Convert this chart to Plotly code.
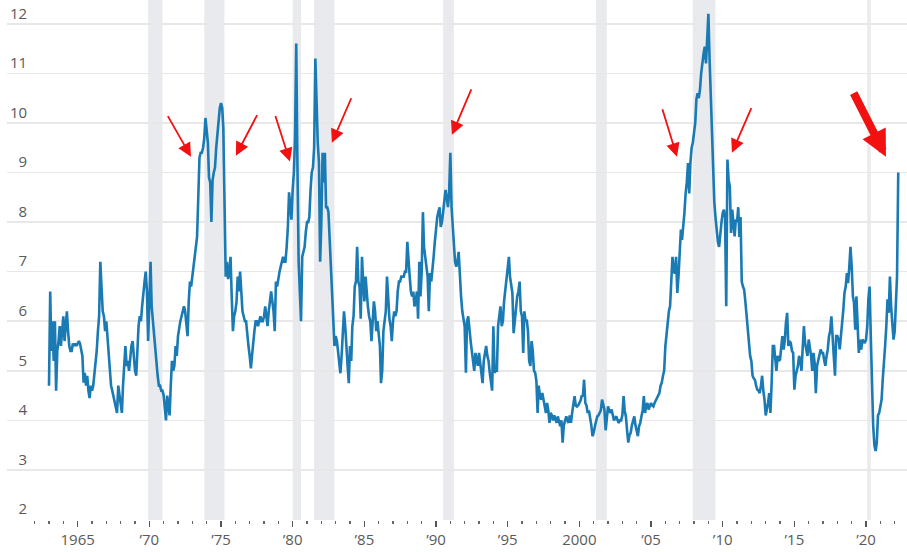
import pandas as pd
import plotly.graph_objects as go

# ---- Data: months' supply of new houses, monthly, Jan 1963 - Apr 2022 ----
supply_1963_1969 = [
    4.7, 6.6, 5.4, 6.0, 5.2, 6.0, 4.6, 5.4, 5.6, 5.9, 5.5, 5.8,
    6.1, 5.6, 5.9, 6.2, 5.8, 5.5, 5.4, 5.4, 5.55, 5.5, 5.55, 5.5,
    5.55, 5.6, 5.55, 5.4, 5.3, 4.76, 4.96, 4.7, 4.9, 4.6, 4.45, 4.7,
    4.6, 4.7, 4.9, 5.1, 5.4, 5.8, 6.1, 7.2, 6.5, 6.2, 6.1, 5.8,
    6.0, 5.7, 5.4, 5.0, 4.7, 4.6, 4.5, 4.4, 4.3, 4.15, 4.7, 4.5,
    4.3, 4.15, 4.7, 5.1, 5.5, 5.1, 5.2, 5.0, 5.3, 5.5, 5.6, 5.3,
    5.0, 4.9, 5.5, 5.9, 6.1, 6.0, 6.3, 6.6, 6.8, 7.0, 6.6, 5.6,
]
supply_1970s = [
    6.5, 7.2, 6.3, 6.0, 5.7, 5.4, 5.2, 4.9, 4.7, 4.7, 4.6, 4.6,
    4.5, 4.3, 4.0, 4.5, 4.3, 4.1, 4.7, 5.2, 5.0, 5.1, 5.5, 5.3,
    5.7, 5.9, 6.0, 6.1, 6.2, 6.3, 6.2, 6.0, 5.7, 6.4, 6.8, 6.7,
    6.9, 7.1, 7.3, 7.6, 7.7, 8.5, 9.3, 9.4, 9.4, 9.5, 9.7, 10.1,
    9.8, 9.6, 8.9, 8.8, 8.0, 8.85, 9.0, 9.1, 9.5, 9.8, 10.1, 10.3,
    10.4, 10.3, 9.9, 8.5, 6.9, 7.2, 6.85, 7.0, 7.3, 6.5, 5.8, 6.1,
    6.2, 6.4, 6.9, 6.6, 7.0, 6.6, 6.2, 6.1, 6.0, 6.0, 5.7, 5.5,
    5.3, 5.05, 5.3, 5.6, 5.8, 6.0, 6.0, 5.9, 6.0, 6.1, 6.0, 6.0,
    6.1, 6.3, 6.1, 5.9, 6.2, 6.4, 6.6, 6.4, 6.2, 5.8, 6.8, 6.7,
    6.9, 7.0, 7.1, 7.2, 7.3, 7.2, 7.2, 7.5, 7.9, 8.6, 8.3, 8.05,
]
supply_1980s = [
    8.65, 9.0, 9.7, 11.6, 9.2, 7.2, 6.6, 6.0, 7.3, 7.4, 7.5, 7.8,
    8.0, 8.0, 8.1, 8.65, 9.0, 9.1, 9.5, 11.3, 10.3, 9.6, 9.2, 7.2,
    8.0, 9.4, 8.8, 9.4, 8.3, 8.3, 8.2, 7.6, 7.2, 6.4, 5.8, 5.5,
    5.7, 5.6, 5.4, 5.2, 4.95, 5.3, 5.7, 6.2, 5.9, 5.6, 5.1, 4.75,
    5.5, 5.2, 5.9, 6.1, 6.7, 6.8, 7.5, 6.8, 6.7, 6.05, 7.3, 6.8,
    6.4, 6.9, 6.5, 6.3, 6.1, 6.0, 5.6, 6.1, 6.4, 6.2, 5.8, 6.0,
    5.8, 5.5, 4.75, 5.0, 5.8, 6.05, 6.2, 6.9, 6.5, 6.05, 5.9, 5.6,
    6.0, 6.2, 6.1, 6.2, 6.6, 6.8, 6.8, 6.9, 6.9, 6.9, 7.0, 7.0,
    7.6, 7.1, 6.9, 6.6, 6.5, 6.6, 6.3, 6.4, 6.6, 6.05, 7.2, 6.5,
    7.0, 8.2, 7.5, 7.3, 7.1, 6.9, 6.2, 6.97, 6.8, 7.0, 7.3, 7.6,
]
supply_1990s = [
    7.9, 8.1, 8.2, 8.3, 7.9, 8.0, 8.2, 8.4, 8.65, 8.5, 8.3, 8.6,
    9.4, 8.3, 7.9, 7.4, 7.2, 7.1, 7.2, 7.4, 6.8, 6.5, 6.2, 6.0,
    5.9, 4.96, 6.0, 6.1, 5.8, 5.6, 5.4, 5.2, 5.0, 5.36, 5.2, 5.1,
    5.36, 5.1, 5.0, 4.75, 5.2, 5.36, 5.5, 5.3, 5.2, 4.96, 4.8, 4.6,
    5.9, 4.96, 5.0, 5.0, 5.9, 6.1, 6.3, 5.9, 6.0, 6.4, 6.6, 6.9,
    7.0, 7.3, 6.9, 6.7, 6.57, 5.76, 6.0, 6.3, 6.5, 6.6, 6.8, 6.2,
    6.1, 5.36, 6.2, 6.0, 6.03, 5.8, 5.2, 5.1, 5.6, 5.4, 5.0, 4.96,
    4.8, 4.15, 4.7, 4.5, 4.42, 4.55, 4.4, 4.3, 4.15, 4.35, 4.2, 3.95,
    4.15, 4.1, 4.0, 4.1, 4.0, 3.95, 4.08, 4.0, 3.88, 4.0, 3.55, 3.9,
    4.0, 4.08, 4.0, 3.95, 4.1, 3.95, 4.15, 4.3, 4.49, 4.3, 4.28, 4.3,
]
supply_2000s = [
    4.35, 4.4, 4.49, 4.5, 4.82, 4.35, 4.3, 4.15, 4.2, 4.08, 3.9, 3.68,
    3.75, 3.88, 4.0, 4.08, 4.1, 4.15, 4.2, 4.42, 4.3, 4.22, 3.8, 4.0,
    4.28, 4.2, 4.15, 4.22, 4.1, 4.0, 4.05, 4.08, 4.0, 3.95, 4.0, 4.0,
    4.1, 4.49, 4.2, 4.08, 3.8, 3.55, 3.7, 3.75, 3.9, 4.0, 4.08, 3.9,
    3.75, 3.68, 3.88, 3.95, 4.08, 4.2, 4.49, 4.15, 4.3, 4.35, 4.22, 4.3,
    4.35, 4.3, 4.28, 4.35, 4.4, 4.42, 4.5, 4.55, 4.7, 4.76, 4.9, 5.0,
    5.5, 5.8, 6.03, 6.2, 6.3, 6.7, 7.3, 7.0, 6.97, 7.3, 6.57, 6.9,
    7.3, 7.85, 7.64, 7.9, 8.18, 8.58, 8.8, 9.19, 8.58, 9.2, 9.5, 9.6,
    9.8, 10.0, 10.47, 10.6, 10.5, 10.67, 11.0, 11.27, 11.4, 11.54, 11.2, 11.68,
    12.2, 11.27, 10.54, 9.8, 8.79, 8.4, 8.1, 7.78, 7.6, 7.5, 7.85, 8.0,
]
supply_2010s = [
    8.18, 8.25, 8.1, 6.3, 9.26, 8.85, 8.72, 7.78, 8.25, 7.9, 7.71, 8.05,
    8.0, 8.3, 7.7, 8.1, 6.8, 6.7, 6.64, 6.4, 6.1, 5.8, 5.5, 5.3,
    5.2, 4.9, 4.85, 4.82, 4.7, 4.62, 4.6, 4.55, 4.7, 4.9, 4.6, 4.42,
    4.1, 4.2, 4.35, 4.55, 4.15, 4.76, 5.5, 5.5, 5.2, 5.0, 5.3, 5.2,
    5.23, 5.56, 5.7, 5.43, 5.6, 5.97, 6.17, 5.5, 5.6, 5.56, 5.4, 5.36,
    4.62, 4.9, 5.0, 5.1, 5.3, 5.2, 5.0, 5.43, 5.9, 5.56, 5.4, 5.3,
    5.63, 5.5, 5.3, 5.0, 5.36, 5.16, 4.55, 5.1, 5.23, 5.3, 5.43, 5.36,
    5.36, 5.2, 5.1, 5.3, 5.43, 5.7, 5.8, 6.1, 5.56, 5.3, 4.9, 5.7,
    5.7, 5.63, 5.43, 5.7, 5.83, 6.23, 6.57, 6.7, 6.97, 6.77, 7.1, 7.5,
    7.1, 6.5, 6.37, 5.83, 6.5, 5.7, 5.36, 5.63, 5.43, 5.63, 5.6, 5.56,
]
supply_2020s = [
    5.63, 5.9, 6.44, 6.7, 5.7, 4.76, 3.9, 3.5, 3.38, 3.55, 4.1, 4.15,
    4.3, 4.42, 4.82, 5.1, 5.5, 5.9, 6.44, 6.17, 6.9, 6.3, 6.03, 5.63,
    5.8, 6.3, 6.9, 9.0,
]

recession_starts = ["1969-12-01", "1973-11-01", "1980-01-01", "1981-07-01",
                    "1990-07-01", "2001-03-01", "2007-12-01", "2020-02-01"]
recession_ends = ["1970-11-30", "1975-03-31", "1980-07-31", "1982-11-30",
                  "1991-03-31", "2001-11-30", "2009-06-30", "2020-04-30"]

tick_years = ["1965-01-01", "1970-01-01", "1975-01-01", "1980-01-01",
              "1985-01-01", "1990-01-01", "1995-01-01", "2000-01-01",
              "2005-01-01", "2010-01-01", "2015-01-01", "2020-01-01"]
tick_text = ["1965", "\u201970", "\u201975", "\u201980", "\u201985", "\u201990",
             "\u201995", "2000", "\u201905", "\u201910", "\u201915", "\u201920"]

y_ticks = [2, 3, 4, 5, 6, 7, 8, 9, 10, 11, 12]

# arrow annotations: tip (date, value)
arrow_tips_x = ["1972-11-27", "1976-01-15", "1979-10-23", "1982-09-27",
                "1991-02-10", "2006-10-23", "2010-08-25", "2021-05-22"]
arrow_tips_y = [9.32, 9.34, 9.22, 9.60, 9.76, 9.32, 9.40, 9.32]

# ---- Build ----
values = (supply_1963_1969 + supply_1970s + supply_1980s + supply_1990s
          + supply_2000s + supply_2010s + supply_2020s)
dates = pd.date_range("1963-01-01", periods=len(values), freq="MS")

FONT = "Open Sans, Noto Sans, DejaVu Sans, sans-serif"
LABEL = "#5a5a5a"

fig = go.Figure()
fig.add_trace(go.Scatter(
    x=dates, y=values, mode="lines",
    line=dict(color="#1a7ab3", width=2.6),
    hoverinfo="skip", showlegend=False,
))

for s, e in zip(recession_starts, recession_ends):
    fig.add_shape(type="rect", xref="x", yref="paper", x0=s, x1=e, y0=0, y1=1,
                  fillcolor="#e9eaed", line=dict(width=0), layer="below")

tails = [(-24, -42), (22, -42), (-15, -47), (20, -46), (20, -47), (-15, -49), (20, -46)]
for i in range(7):
    fig.add_annotation(x=arrow_tips_x[i], y=arrow_tips_y[i], text="", showarrow=True,
                       arrowhead=2, arrowsize=1.5, arrowwidth=1.8, arrowcolor="#f21010",
                       ax=tails[i][0], ay=tails[i][1], standoff=0)
fig.add_annotation(x=arrow_tips_x[7], y=arrow_tips_y[7], text="", showarrow=True,
                   arrowhead=2, arrowsize=0.65, arrowwidth=8, arrowcolor="#f21010",
                   ax=-33, ay=-65, standoff=0)

fig.update_layout(
    width=907, height=552,
    margin=dict(l=7, r=0, t=0, b=32),
    paper_bgcolor="white", plot_bgcolor="white",
    font=dict(family=FONT, size=15, color=LABEL),
    xaxis=dict(
        type="date", range=["1960-01-27", "2022-11-10"],
        tickvals=tick_years, ticktext=tick_text,
        ticks="outside", ticklen=6, tickwidth=1.5, tickcolor="#555555",
        showgrid=False, zeroline=False, showline=False,
        tickfont=dict(size=15, color=LABEL),
        minor=dict(dtick="M12", tick0="1960-01-01", ticks="outside", ticklen=3,
                   tickwidth=1.5, tickcolor="#666666", showgrid=False),
    ),
    yaxis=dict(
        range=[1.99, 12.48], tickvals=y_ticks,
        ticktext=[("\u2007" + str(v)) if v < 10 else str(v) for v in y_ticks],
        ticklabelposition="inside top", ticks="",
        showgrid=True, gridcolor="#e8e8e8", gridwidth=1.6,
        zeroline=False, showline=False,
        tickfont=dict(size=15, color=LABEL),
    ),
)

fig.write_html("out.html",
               config={"displayModeBar": False, "staticPlot": True},
               post_script="document.body.style.margin='0';document.body.style.overflow='hidden';")
